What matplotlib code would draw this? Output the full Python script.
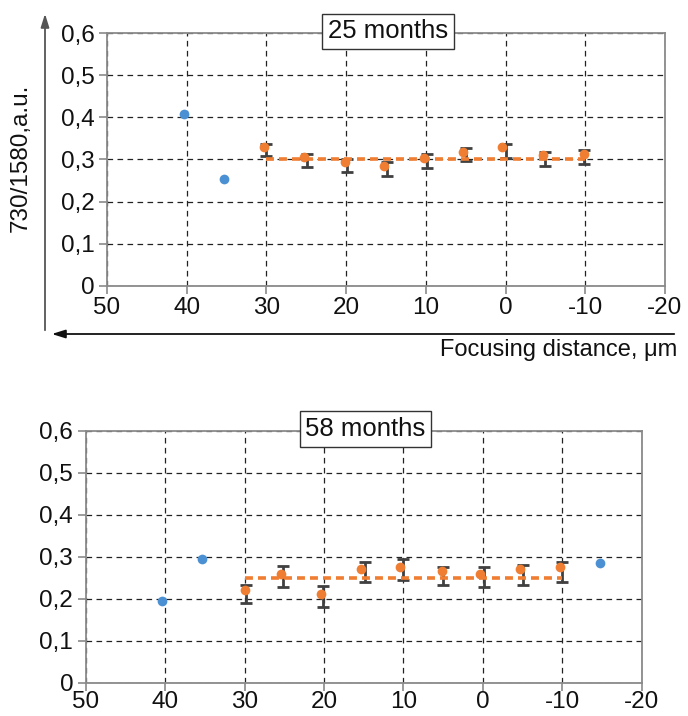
import matplotlib
matplotlib.use("Agg")
import matplotlib.pyplot as plt
from matplotlib.patches import FancyArrowPatch

plt.rcParams['font.family'] = ['Liberation Sans', 'DejaVu Sans']

# ---------------- data: 25 months ----------------
t25_blue_x = [40.4, 35.3]
t25_blue_y = [0.407, 0.253]
t25_orange_x = [30.3, 25.3, 20.2, 15.3, 10.2, 5.3, 0.5, -4.7, -9.8]
t25_orange_y = [0.329, 0.307, 0.293, 0.284, 0.304, 0.319, 0.330, 0.311, 0.312]
t25_err_x = [30.0, 24.9, 19.9, 14.9, 9.9, 5.0, 0.0, -5.0, -9.9]
t25_err_c = [0.323, 0.298, 0.285, 0.277, 0.296, 0.312, 0.321, 0.302, 0.306]
t25_err_e = [0.015, 0.016, 0.015, 0.016, 0.016, 0.016, 0.017, 0.017, 0.016]
t25_trend_x = [30, -10]
t25_trend_y = [0.30, 0.30]

# ---------------- data: 58 months ----------------
t58_blue_x = [40.4, 35.3, -14.75]
t58_blue_y = [0.195, 0.295, 0.286]
t58_orange_x = [29.9, 25.4, 20.4, 15.3, 10.4, 5.1, 0.3, -4.7, -9.7]
t58_orange_y = [0.222, 0.259, 0.211, 0.271, 0.276, 0.266, 0.258, 0.271, 0.275]
t58_err_x = [29.8, 25.2, 20.1, 14.8, 10.0, 5.0, -0.1, -5.1, -10.0]
t58_err_c = [0.212, 0.254, 0.206, 0.263, 0.270, 0.254, 0.251, 0.257, 0.263]
t58_err_e = [0.021, 0.025, 0.025, 0.024, 0.024, 0.022, 0.024, 0.024, 0.024]
t58_trend_x = [30, -10]
t58_trend_y = [0.25, 0.25]

x_ticks = [50, 40, 30, 20, 10, 0, -10, -20]
y_ticks = [0, 0.1, 0.2, 0.3, 0.4, 0.5, 0.6]
y_ticklabels = ['0', '0,1', '0,2', '0,3', '0,4', '0,5', '0,6']

BLUE = '#4a90d2'
ORANGE = '#ef7d32'
ERR = '#404040'
SPINE = '#8a8a8a'

W, H = 688, 716
fig = plt.figure(figsize=(W / 100, H / 100), dpi=100)


def make_axes(rect, bx, by, ox, oy, ex, ec, ee, tx, ty, title, title_xy, xpad):
    ax = fig.add_axes(rect)
    ax.set_xlim(50, -20)
    ax.set_ylim(0, 0.6)
    ax.set_xticks(x_ticks)
    ax.set_xticklabels([str(v) for v in x_ticks])
    ax.set_yticks(y_ticks)
    ax.set_yticklabels(y_ticklabels)
    ax.grid(True, color='#222222', linestyle=(0, (4.5, 3.5)), linewidth=0.9)
    for s in ax.spines.values():
        s.set_color(SPINE)
        s.set_linewidth(1.3)
    ax.tick_params(axis='both', colors=SPINE, labelcolor='#111111',
                   labelsize=17.5, length=6, width=1.2, direction='out')
    ax.tick_params(axis='y', pad=3)
    ax.tick_params(axis='x', pad=xpad)
    ax.set_axisbelow(True)
    ax.errorbar(ex, ec, yerr=ee, fmt='none', ecolor=ERR, elinewidth=2.0,
                capsize=4.5, capthick=2.0, zorder=3)
    ax.plot(tx, ty, color=ORANGE, linestyle=(0, (2.2, 1.4)), linewidth=2.6,
            zorder=4)
    ax.plot(ox, oy, 'o', color=ORANGE, markersize=7, markeredgewidth=0,
            zorder=5)
    ax.plot(bx, by, 'o', color=BLUE, markersize=7, markeredgewidth=0,
            zorder=5)
    fig.text(title_xy[0], title_xy[1], title, fontsize=18.5, color='#111111',
             ha='center', va='center',
             bbox=dict(boxstyle='square,pad=0.22', facecolor='white',
                       edgecolor='#333333', linewidth=1.0))
    return ax


ax1 = make_axes([107 / W, 1 - 285.7 / H, (665 - 107) / W, (285.7 - 33.3) / H],
                t25_blue_x, t25_blue_y, t25_orange_x, t25_orange_y,
                t25_err_x, t25_err_c, t25_err_e, t25_trend_x, t25_trend_y,
                '25 months', (388 / W, 1 - 31.5 / H), 2)

ax2 = make_axes([85.7 / W, 1 - 682.7 / H, (641.7 - 85.7) / W, (682.7 - 431) / H],
                t58_blue_x, t58_blue_y, t58_orange_x, t58_orange_y,
                t58_err_x, t58_err_c, t58_err_e, t58_trend_x, t58_trend_y,
                '58 months', (365.5 / W, 1 - 429 / H), 0.3)

# axis arrows for top panel
fig.add_artist(FancyArrowPatch((45 / W, 1 - 333 / H), (45 / W, 1 - 11 / H),
                               transform=fig.transFigure,
                               arrowstyle='-|>,head_length=8,head_width=2.5',
                               color='#555555', linewidth=1.3, mutation_scale=1))
fig.add_artist(FancyArrowPatch((677 / W, 1 - 334 / H), (49 / W, 1 - 334 / H),
                               transform=fig.transFigure,
                               arrowstyle='-|>,head_length=8,head_width=2.5',
                               color='#111111', linewidth=1.3, mutation_scale=1))

fig.text(21 / W, 1 - 158 / H, '730/1580,a.u.', rotation=90, fontsize=17.5,
         color='#111111', ha='center', va='center')
fig.text(677 / W, 1 - 350 / H, 'Focusing distance, μm', fontsize=17,
         color='#111111', ha='right', va='center')

fig.savefig('out.png', dpi=100)
